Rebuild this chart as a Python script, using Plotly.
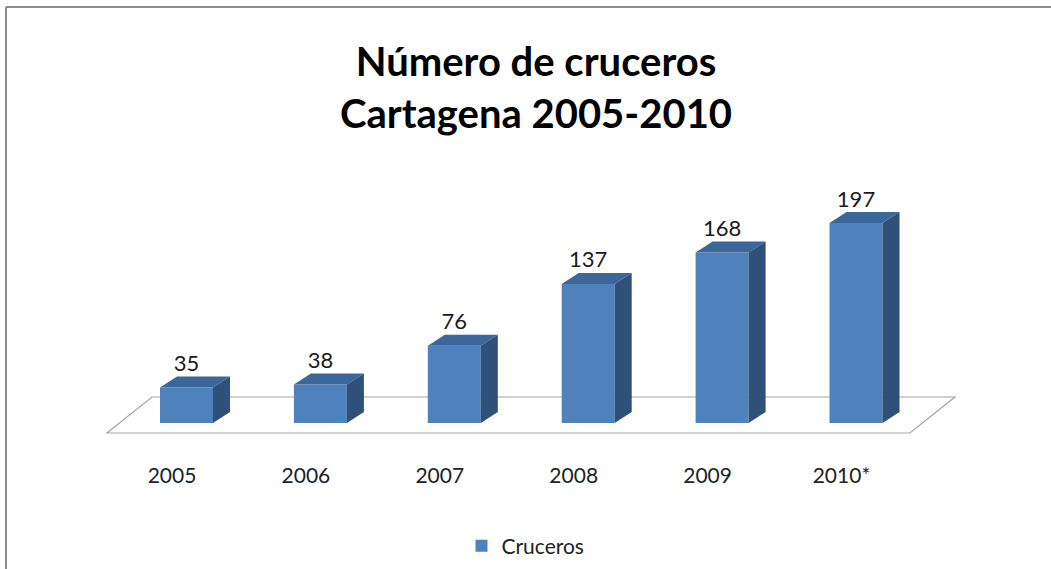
import plotly.graph_objects as go

# ---- data ----
years = ["2005", "2006", "2007", "2008", "2009", "2010*"]
cruceros = [35, 38, 76, 137, 168, 197]
series_name = "Cruceros"
title_lines = ["Número de cruceros", "Cartagena 2005-2010"]

# ---- style / geometry (pixel-derived constants) ----
W, H = 1051, 569
PX_PER_CAT = 133.9
PX_PER_UNIT = 1.015
X0_PX = 186.5       # pixel x of first category centre
Y0_PX = 423         # pixel y of value 0
bar_w = 53 / PX_PER_CAT
dx = 17 / PX_PER_CAT
dy = 11 / PX_PER_UNIT
label_shift = -14.5 / PX_PER_CAT

FRONT = "#4F81BD"
TOP = "#3C679B"
SIDE = "#2F5079"
FONT = "Lato"

x_range = [-X0_PX / PX_PER_CAT, (W - X0_PX) / PX_PER_CAT]
y_range = [(Y0_PX - H) / PX_PER_UNIT, Y0_PX / PX_PER_UNIT]

idx = list(range(len(years)))

fig = go.Figure()

# front faces
fig.add_trace(go.Bar(
    x=idx, y=cruceros, width=bar_w, name=series_name,
    marker=dict(color=FRONT, line=dict(width=0)),
    showlegend=True, hoverinfo="x+y",
))

# top and side faces (depth illusion)
for i, v in zip(idx, cruceros):
    l, r = i - bar_w / 2, i + bar_w / 2
    fig.add_trace(go.Scatter(
        x=[l, r, r + dx, l + dx, l], y=[v, v, v + dy, v + dy, v],
        fill="toself", fillcolor=TOP, mode="lines", line=dict(width=0, color=TOP),
        showlegend=False, hoverinfo="skip",
    ))
    fig.add_trace(go.Scatter(
        x=[r, r + dx, r + dx, r, r], y=[0, dy, v + dy, v, 0],
        fill="toself", fillcolor=SIDE, mode="lines", line=dict(width=0, color=SIDE),
        showlegend=False, hoverinfo="skip",
    ))

# value labels
fig.add_trace(go.Scatter(
    x=idx, y=[v + dy for v in cruceros], mode="text",
    text=[str(v) for v in cruceros], textposition="top center",
    textfont=dict(family=FONT, size=22, color="#1a1a1a"),
    showlegend=False, hoverinfo="skip",
))

# floor (parallelogram) under the bars
n = len(years)
fl_front_y = -9.85
fl_back_y = 25.6
fl_l = -0.594
fl_r = n - 1 + 0.403
fl_depth = 45 / PX_PER_CAT
fig.add_shape(
    type="path", xref="x", yref="y", layer="below",
    path=(f"M {fl_l},{fl_front_y} L {fl_r},{fl_front_y} "
          f"L {fl_r + fl_depth},{fl_back_y} L {fl_l + fl_depth},{fl_back_y} Z"),
    line=dict(color="#A6A6A6", width=1.2), fillcolor="white",
)

# outer chart border (top and left visible)
fig.add_shape(type="line", xref="paper", yref="paper",
              x0=6 / W, x1=1, y0=1 - 7 / H, y1=1 - 7 / H,
              line=dict(color="#8C8C8C", width=2))
fig.add_shape(type="line", xref="paper", yref="paper",
              x0=6 / W, x1=6 / W, y0=0, y1=1 - 7 / H,
              line=dict(color="#8C8C8C", width=2))

fig.update_layout(
    width=W, height=H,
    margin=dict(l=0, r=0, t=0, b=0),
    paper_bgcolor="white", plot_bgcolor="white",
    title=dict(
        text="<br>".join(title_lines),
        x=536 / W, xanchor="center", y=1 - 76 / H, yanchor="top",
        font=dict(family=FONT, size=40, color="#000000", weight="bold"),
    ),
    xaxis=dict(
        range=x_range, showgrid=False, zeroline=False, showline=False,
        tickmode="array", tickvals=[i + label_shift for i in idx], ticktext=years,
        ticks="", tickfont=dict(family=FONT, size=21, color="#222222"),
        anchor="free", position=1 - 460.5 / H, fixedrange=True,
    ),
    yaxis=dict(
        range=y_range, domain=[0, 1], showgrid=False, zeroline=False,
        showline=False, showticklabels=False, fixedrange=True,
    ),
    legend=dict(
        orientation="h", x=0.5, xanchor="center", y=1 - 546 / H, yanchor="middle",
        font=dict(family=FONT, size=21, color="#222222"),
        bgcolor="rgba(0,0,0,0)",
    ),
    showlegend=True,
)

fig.write_html(
    "out.html",
    config={"displayModeBar": False},
    post_script="document.body.style.margin='0';document.body.style.overflow='hidden';",
)
